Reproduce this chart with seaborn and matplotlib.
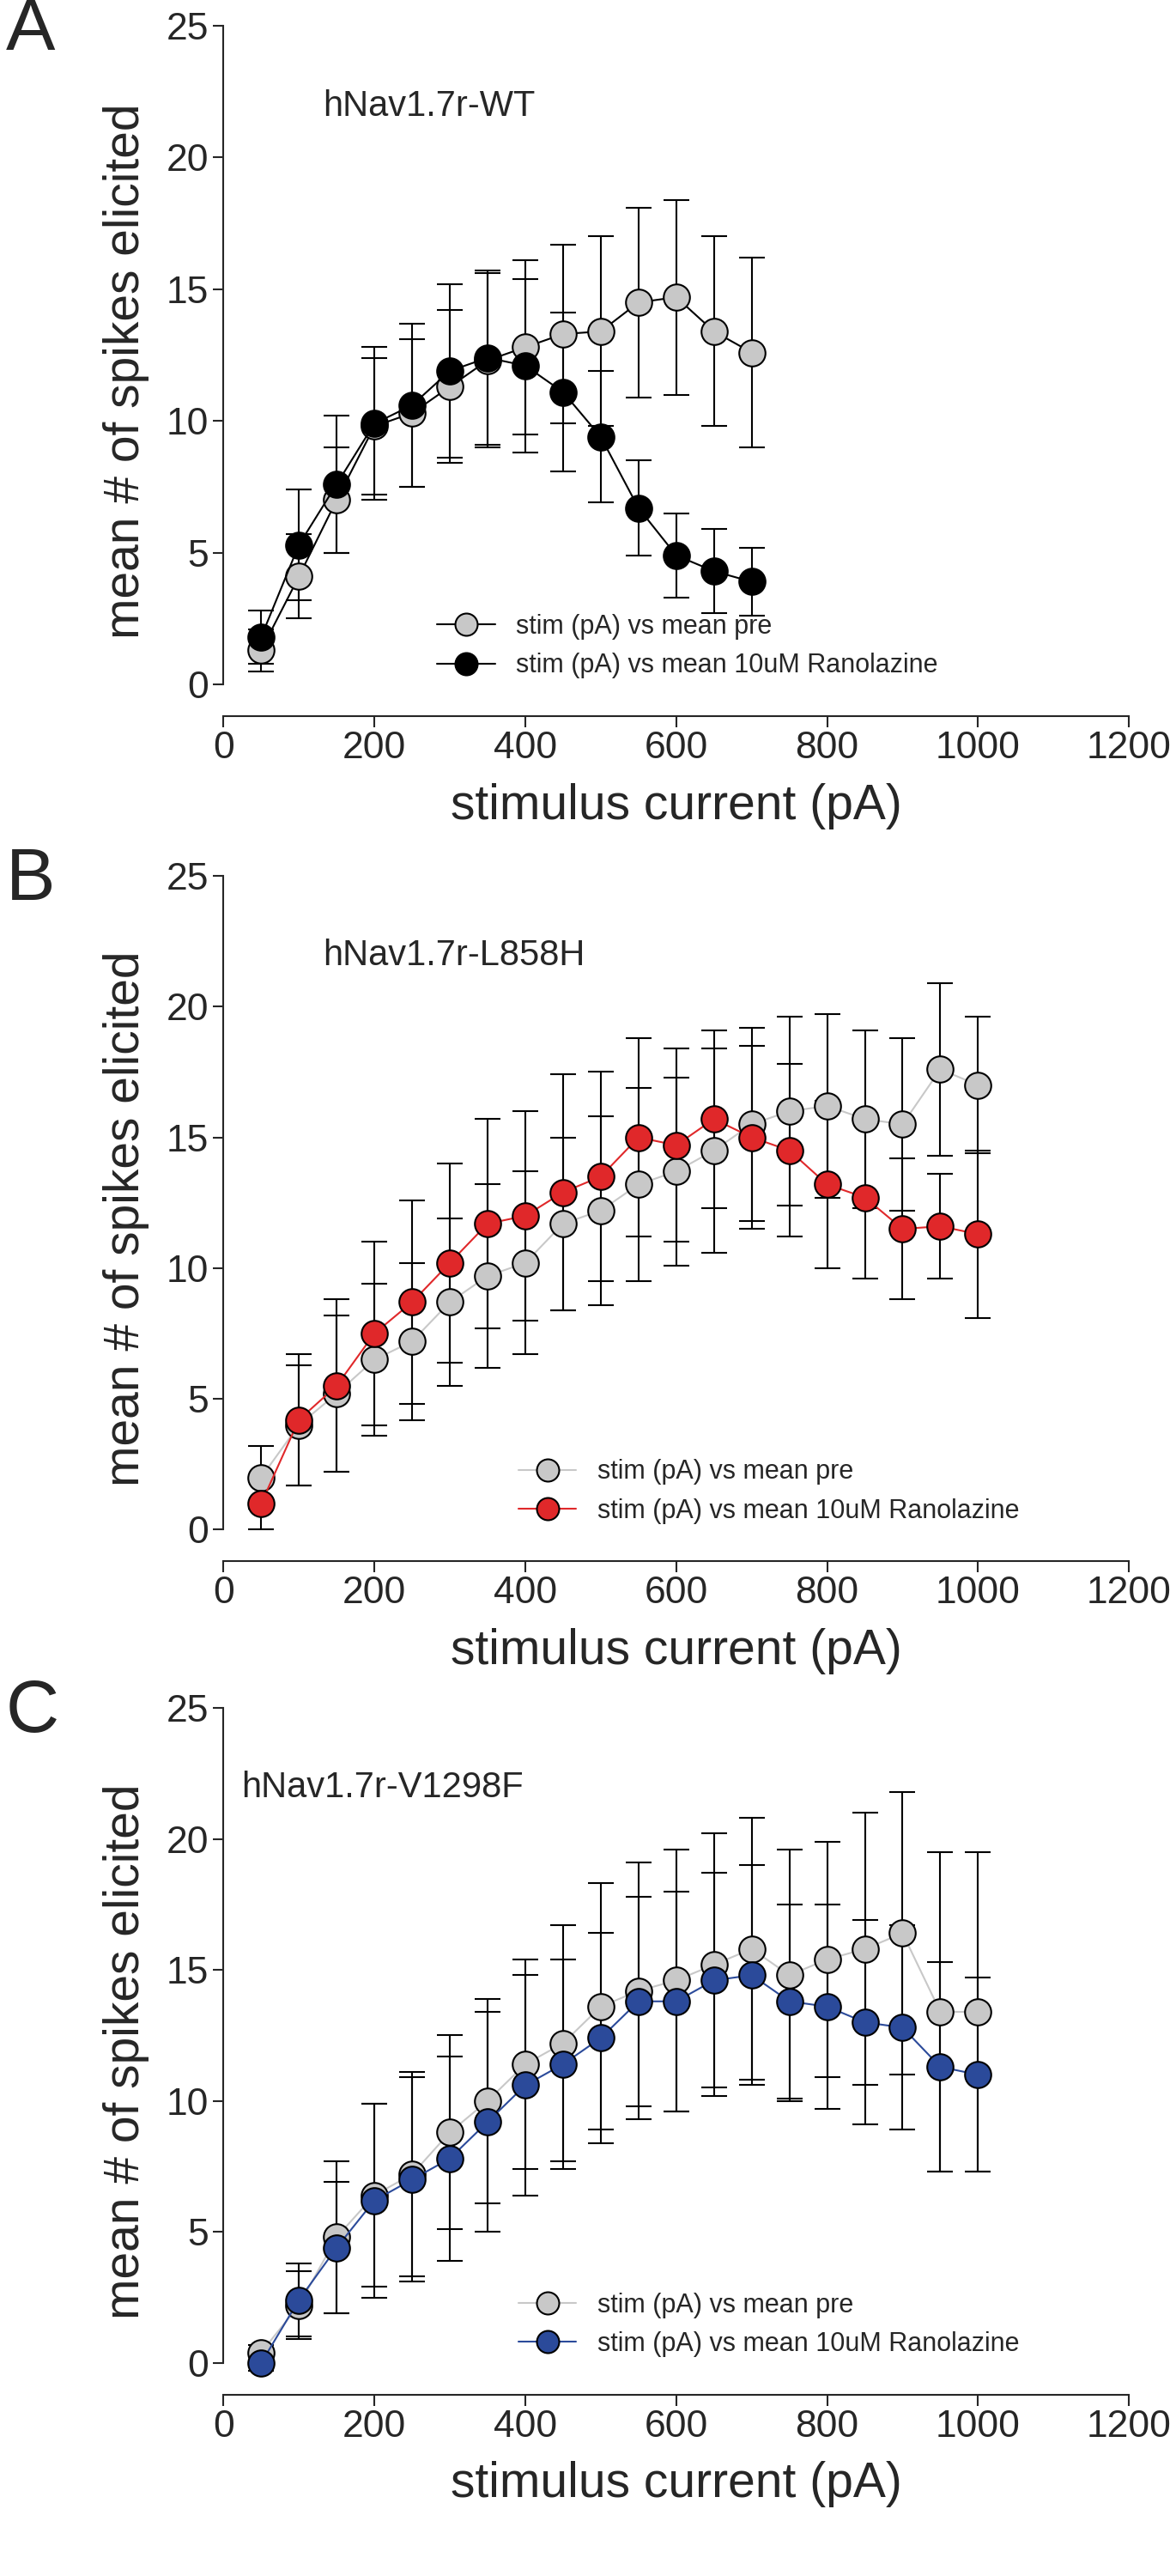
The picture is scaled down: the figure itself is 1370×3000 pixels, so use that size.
import pandas as pd
import numpy as np
import matplotlib.pyplot as plt
import seaborn as sns

sns.set_style('ticks')
plt.rcParams.update({
    "font.family": "sans-serif",
    "font.sans-serif": ["Liberation Sans", "DejaVu Sans"]})

STIM = [50, 100, 150, 200, 250, 300, 350, 400, 450, 500, 550, 600, 650, 700,
        750, 800, 850, 900, 950, 1000]

# panel A (WT)
A_PRE = [1.3, 4.1, 7.0, 9.8, 10.3, 11.3, 12.3, 12.8, 13.3, 13.4, 14.5, 14.7, 13.4, 12.6]
A_PRE_ERR = [0.8, 1.6, 2.0, 2.6, 2.8, 2.9, 3.3, 3.3, 3.4, 3.6, 3.6, 3.7, 3.6, 3.6]
A_RAN = [1.8, 5.3, 7.6, 9.9, 10.6, 11.9, 12.4, 12.1, 11.1, 9.4, 6.7, 4.9, 4.3, 3.9]
A_RAN_ERR = [1.0, 2.1, 2.6, 2.9, 3.1, 3.3, 3.3, 3.3, 3.0, 2.5, 1.8, 1.6, 1.6, 1.3]

# panel B (L858H)
B_PRE = [2.0, 4.0, 5.2, 6.5, 7.2, 8.7, 9.7, 10.2, 11.7, 12.2, 13.2, 13.7, 14.5, 15.5,
         16.0, 16.2, 15.7, 15.5, 17.6, 17.0]
B_PRE_ERR = [1.2, 2.3, 3.0, 2.9, 3.0, 3.2, 3.5, 3.5, 3.3, 3.6, 3.7, 3.6, 3.9, 3.7,
             3.6, 3.5, 3.4, 3.3, 3.3, 2.6]
B_RAN = [1.0, 4.2, 5.5, 7.5, 8.7, 10.2, 11.7, 12.0, 12.9, 13.5, 15.0, 14.7, 15.7, 15.0,
         14.5, 13.2, 12.7, 11.5, 11.6, 11.3]
B_RAN_ERR = [1.0, 2.5, 3.3, 3.5, 3.9, 3.8, 4.0, 4.0, 4.5, 4.0, 3.8, 3.7, 3.4, 3.5,
             3.3, 3.2, 3.1, 2.7, 2.0, 3.2]

# panel C (V1298F)
C_PRE = [0.4, 2.2, 4.8, 6.4, 7.2, 8.8, 10.0, 11.4, 12.2, 13.6, 14.2, 14.6, 15.2, 15.8,
         14.8, 15.4, 15.8, 16.4, 13.4, 13.4]
C_PRE_ERR = [0.3, 1.3, 2.9, 3.5, 3.9, 3.7, 3.9, 4.0, 4.5, 4.7, 4.9, 5.0, 5.0, 5.0,
             4.8, 4.5, 5.2, 5.4, 6.1, 6.1]
C_RAN = [0.0, 2.4, 4.4, 6.2, 7.0, 7.8, 9.2, 10.6, 11.4, 12.4, 13.8, 13.8, 14.6, 14.8,
         13.8, 13.6, 13.0, 12.8, 11.3, 11.0]
C_RAN_ERR = [0.3, 1.4, 2.5, 3.7, 3.9, 3.9, 4.2, 4.2, 4.0, 4.0, 4.0, 4.2, 4.1, 4.2,
             3.7, 3.9, 3.9, 3.9, 4.0, 3.7]

PANELS = [
    ('A', 'hNav1.7r-WT', A_PRE, A_PRE_ERR, A_RAN, A_RAN_ERR, 'black', 'black', 0.21),
    ('B', 'hNav1.7r-L858H', B_PRE, B_PRE_ERR, B_RAN, B_RAN_ERR, '#e0282a', '#c8c8c8', 0.30),
    ('C', 'hNav1.7r-V1298F', C_PRE, C_PRE_ERR, C_RAN, C_RAN_ERR, '#2b4a9a', '#c8c8c8', 0.30),
]
BOXES = [(0.19, 0.722, 0.77, 0.268), (0.19, 0.394, 0.77, 0.266), (0.19, 0.0705, 0.77, 0.2665)]

if __name__ == '__main__':
    fig = plt.figure(figsize=(13.7, 30), dpi=100)
    for box, (letter, name, pre, pre_err, ran, ran_err, col, pre_line, legx) in zip(BOXES, PANELS):
        ax = fig.add_axes(box)
        n = len(pre)
        df = pd.DataFrame({'stim': STIM[:n] * 2,
                           'mean': pre + ran,
                           'cond': ['stim (pA) vs mean pre'] * n + ['stim (pA) vs mean 10uM Ranolazine'] * n})
        ax.errorbar(STIM[:n], pre, yerr=pre_err, fmt='none', ecolor='black', elinewidth=1.5, capsize=11, capthick=1.5, zorder=1)
        ax.errorbar(STIM[:n], ran, yerr=ran_err, fmt='none', ecolor='black', elinewidth=1.5, capsize=11, capthick=1.5, zorder=1)
        sns.lineplot(data=df[df['cond'].str.contains('pre')], x='stim', y='mean', color=pre_line, marker='o',
                     markersize=22, markerfacecolor='#c8c8c8', markeredgecolor='black', markeredgewidth=1.5,
                     linewidth=1.5, label='stim (pA) vs mean pre', ax=ax, zorder=3)
        sns.lineplot(data=df[~df['cond'].str.contains('pre')], x='stim', y='mean', color=col, marker='o',
                     markersize=22, markerfacecolor=col, markeredgecolor='black', markeredgewidth=1.5,
                     linewidth=1.5, label='stim (pA) vs mean 10uM Ranolazine', ax=ax, zorder=4)
        ax.set_xlim(0, 1200)
        ax.set_ylim(-1.2, 25)
        ax.set_xticks(range(0, 1201, 200))
        ax.set_yticks(range(0, 26, 5))
        ax.spines['top'].set_visible(False)
        ax.spines['right'].set_visible(False)
        ax.spines['left'].set_bounds(0, 25)
        for s in ['left', 'bottom']:
            ax.spines[s].set_linewidth(1.5)
        ax.tick_params(labelsize=32, width=1.5, length=9)
        ax.set_xlabel('stimulus current (pA)', fontsize=41, labelpad=14)
        ax.set_ylabel('mean # of spikes elicited', fontsize=41, labelpad=14)
        ax.text(0.11 if letter != 'C' else 0.02, 0.87, name, transform=ax.transAxes, fontsize=30)
        ax.legend(loc='lower left', bbox_to_anchor=(legx, 0.02), frameon=False, fontsize=22,
                  handlelength=2.2, markerscale=0.85)
        fig.text(0.005, box[1] + box[3] - 0.002, letter, fontsize=62, va='center')
    plt.savefig('out.png', dpi=100)
